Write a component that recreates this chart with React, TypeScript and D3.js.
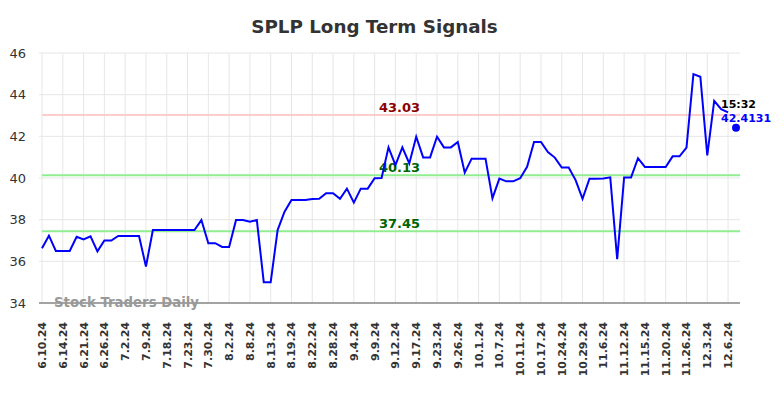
import React from "react";
import * as d3 from "d3";

const tickLabels = ["6.10.24","6.14.24","6.21.24","6.26.24","7.2.24","7.9.24","7.18.24","7.23.24","7.30.24","8.2.24","8.8.24","8.13.24","8.19.24","8.22.24","8.28.24","9.4.24","9.9.24","9.12.24","9.17.24","9.23.24","9.26.24","10.1.24","10.7.24","10.11.24","10.17.24","10.24.24","10.29.24","11.6.24","11.12.24","11.15.24","11.20.24","11.26.24","12.3.24","12.6.24"];

const prices = [
  36.63, 37.23, 36.5, 36.5, 36.5, 37.18, 37.05, 37.2, 36.48, 37.0,
  37.0, 37.22, 37.22, 37.22, 37.22, 35.75, 37.5, 37.5, 37.5, 37.5,
  37.5, 37.5, 37.5, 37.98, 36.87, 36.87, 36.69, 36.69, 37.98, 37.98,
  37.9, 37.98, 35.0, 35.0, 37.5, 38.38, 38.95, 38.95, 38.95, 38.99,
  39.0, 39.27, 39.27, 39.0, 39.49, 38.82, 39.49, 39.49, 39.99, 40.0,
  41.47, 40.62, 41.47, 40.7, 41.98, 40.99, 40.99, 41.98, 41.47, 41.47,
  41.73, 40.26, 40.93, 40.93, 40.93, 39.03, 39.97, 39.84, 39.84, 39.99,
  40.54, 41.73, 41.73, 41.25, 40.98, 40.5, 40.5, 39.9, 39.0, 39.97,
  39.97, 39.98, 40.03, 36.1, 40.03, 40.03, 40.95, 40.53, 40.53, 40.53,
  40.53, 41.04, 41.04, 41.46, 44.99, 44.86, 41.09, 43.7, 43.3, 43.15
];

const lastPrice = 42.4131;
const lastTime = "15:32";
const levels = [
  { value: 43.03, label: "43.03" },
  { value: 40.13, label: "40.13" },
  { value: 37.45, label: "37.45" },
];
const yTicks = [34, 36, 38, 40, 42, 44, 46];

export default function App() {
  const W = 784, H = 398;
  const left = 42, right = 740, top = 53, bottom = 303;
  const x = d3.scaleLinear().domain([0, 100]).range([left, 735]);
  const y = d3.scaleLinear().domain([34, 46]).range([bottom, top]);
  const line = d3.line<number>().x((_, i) => x(i)).y((d) => y(d));
  const font = "DejaVu Sans, sans-serif";
  const levelColors = ["#ffcccc", "#90ee90", "#90ee90"];
  const levelText = ["#8b0000", "#006400", "#006400"];
  return (
    <svg width={W} height={H} style={{ position: "absolute", left: 0, top: 0 }} fontFamily={font}>
      <rect width={W} height={H} fill="#fff" />
      <text x={374.5} y={32.5} textAnchor="middle" fontSize={18.3} fontWeight="bold" fill="#333">SPLP Long Term Signals</text>
      {yTicks.map((t) => (
        <g key={t}>
          <line x1={left - 3} x2={right} y1={y(t)} y2={y(t)} stroke="#e6e6e6" strokeWidth={1} />
          <text x={26} y={y(t) + 4.5} textAnchor="end" fontSize={13} fill="#333">{t}</text>
        </g>
      ))}
      {tickLabels.map((lbl, k) => {
        const xi = x(k * 3);
        return (
          <g key={lbl}>
            <line x1={xi} x2={xi} y1={top} y2={bottom} stroke="#e6e6e6" strokeWidth={1} />
            <text transform={`translate(${xi + 4},322) rotate(-90)`} textAnchor="end" fontSize={11} fontWeight="bold" fill="#333">{lbl}</text>
          </g>
        );
      })}
      {levels.map((l, i) => (
        <g key={l.label}>
          <line x1={left} x2={right} y1={y(l.value)} y2={y(l.value)} stroke={levelColors[i]} strokeWidth={2} />
          <text x={399.5} y={y(l.value) - 3} textAnchor="middle" fontSize={13} fontWeight="bold" fill={levelText[i]}>{l.label}</text>
        </g>
      ))}
      <line x1={left - 3} x2={right} y1={bottom} y2={bottom} stroke="#555" strokeWidth={1} />
      <text x={54} y={307} fontSize={13.3} fontWeight="bold" fill="#999">Stock Traders Daily</text>
      <path d={line(prices) ?? ""} fill="none" stroke="#0000ff" strokeWidth={2} />
      <circle cx={x(100) + 1} cy={y(lastPrice)} r={4} fill="#0000ff" />
      <text x={721} y={108} fontSize={11} fontWeight="bold" fill="#000">{lastTime}</text>
      <text x={721} y={122} fontSize={11} fontWeight="bold" fill="#0000ff">{lastPrice.toFixed(4)}</text>
    </svg>
  );
}
